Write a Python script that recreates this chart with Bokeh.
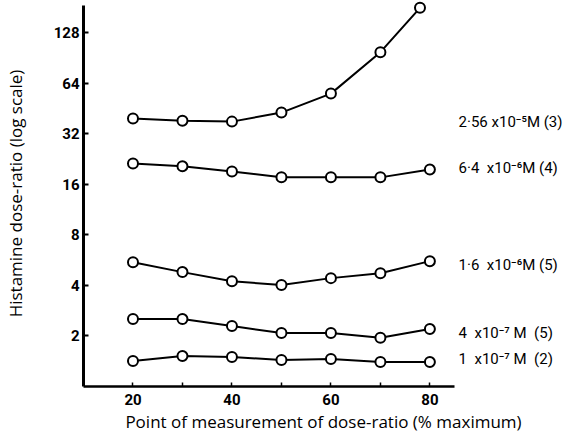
from bokeh.plotting import figure
from bokeh.models import FixedTicker, Title, NumeralTickFormatter
from bokeh.core.properties import value
from bokeh.embed import file_html
from bokeh.resources import INLINE

# ---- data ----
x_top = [20, 30, 40, 50, 60, 70, 78]
y_256e5 = [39.5, 38.3, 37.8, 42.8, 55.5, 98.0, 180.0]
x_pts = [20, 30, 40, 50, 60, 70, 80]
y_64e6 = [21.3, 20.5, 19.1, 17.6, 17.6, 17.6, 19.6]
y_16e6 = [5.50, 4.80, 4.24, 4.02, 4.42, 4.73, 5.58]
y_4e7 = [2.52, 2.52, 2.29, 2.08, 2.08, 1.95, 2.20]
y_1e7 = [1.42, 1.52, 1.50, 1.44, 1.46, 1.40, 1.40]

NB = "\u00a0"
series_labels = ["2·56 x10⁻⁵M (3)",
                 "6·4" + NB * 2 + "x10⁻⁶M (4)",
                 "1·6" + NB * 2 + "x10⁻⁶M (5)",
                 "4" + NB * 2 + "x10⁻⁷ M" + NB * 2 + "(5)",
                 "1" + NB * 2 + "x10⁻⁷ M" + NB * 2 + "(2)"]
label_y = [37.5, 20.0, 5.31, 2.09, 1.45]
label_x = 85.8

y_ticks = [2, 4, 8, 16, 32, 64, 128]
x_ticks = [20, 30, 40, 50, 60, 70, 80]
x_tick_labels = {20: "20", 30: "", 40: "40", 50: "", 60: "60", 70: "", 80: "80"}

TICK_FONT = "Roboto"
TITLE_FONT = "Open Sans"

p = figure(width=563, height=432, y_axis_type="log",
           x_range=(10, 107), y_range=(1, 199),
           output_backend="svg", toolbar_location=None,
           min_border_left=78, min_border_right=0, min_border_top=0,
           min_border_bottom=45)
p.outline_line_color = None
p.xgrid.visible = False
p.ygrid.visible = False

# axes
p.yaxis.ticker = FixedTicker(ticks=y_ticks)
p.yaxis.formatter = NumeralTickFormatter(format="0")
p.yaxis.bounds = (1, 186)
p.yaxis.axis_line_width = 3
p.yaxis.axis_line_color = "black"
p.yaxis.major_tick_in = 5
p.yaxis.major_tick_out = 0
p.yaxis.major_tick_line_width = 2
p.yaxis.major_tick_line_color = "black"
p.yaxis.minor_tick_line_color = None
p.yaxis.major_label_text_font = TICK_FONT
p.yaxis.major_label_text_font_style = "bold"
p.yaxis.major_label_text_font_size = "15px"
p.yaxis.major_label_text_color = "black"
p.yaxis.major_label_standoff = 4
p.yaxis.axis_label = "Histamine dose-ratio (log scale)"
p.yaxis.axis_label_text_font = TITLE_FONT
p.yaxis.axis_label_text_font_style = "normal"
p.yaxis.axis_label_text_font_size = "17px"
p.yaxis.axis_label_text_color = "black"
p.yaxis.axis_label_standoff = 24

p.xaxis.ticker = FixedTicker(ticks=x_ticks)
p.xaxis.major_label_overrides = x_tick_labels
p.xaxis.bounds = (10, 85)
p.xaxis.axis_line_width = 2.5
p.xaxis.axis_line_color = "black"
p.xaxis.major_tick_in = 4
p.xaxis.major_tick_out = 0
p.xaxis.major_tick_line_width = 1.5
p.xaxis.major_tick_line_color = "black"
p.xaxis.minor_tick_line_color = None
p.xaxis.major_label_text_font = TICK_FONT
p.xaxis.major_label_text_font_style = "bold"
p.xaxis.major_label_text_font_size = "15px"
p.xaxis.major_label_text_color = "black"
p.xaxis.major_label_standoff = 7

t = Title(text="Point of measurement of dose-ratio (% maximum)", align="center",
          text_font=TITLE_FONT, text_font_size="17px", text_font_style="normal",
          text_color="black", standoff=0)
p.add_layout(t, "below")

for xs, ys in [(x_top, y_256e5), (x_pts, y_64e6), (x_pts, y_16e6),
               (x_pts, y_4e7), (x_pts, y_1e7)]:
    p.line(xs, ys, line_width=2, line_color="black")
    p.scatter(xs, ys, size=10, fill_color="white", line_color="black", line_width=2)

p.text(x=[label_x] * len(series_labels), y=label_y, text=series_labels,
       text_font=value(TICK_FONT), text_font_size="15px",
       text_baseline="middle", text_align="left", text_color="black")

open("out.html", "w").write(file_html(p, INLINE))
